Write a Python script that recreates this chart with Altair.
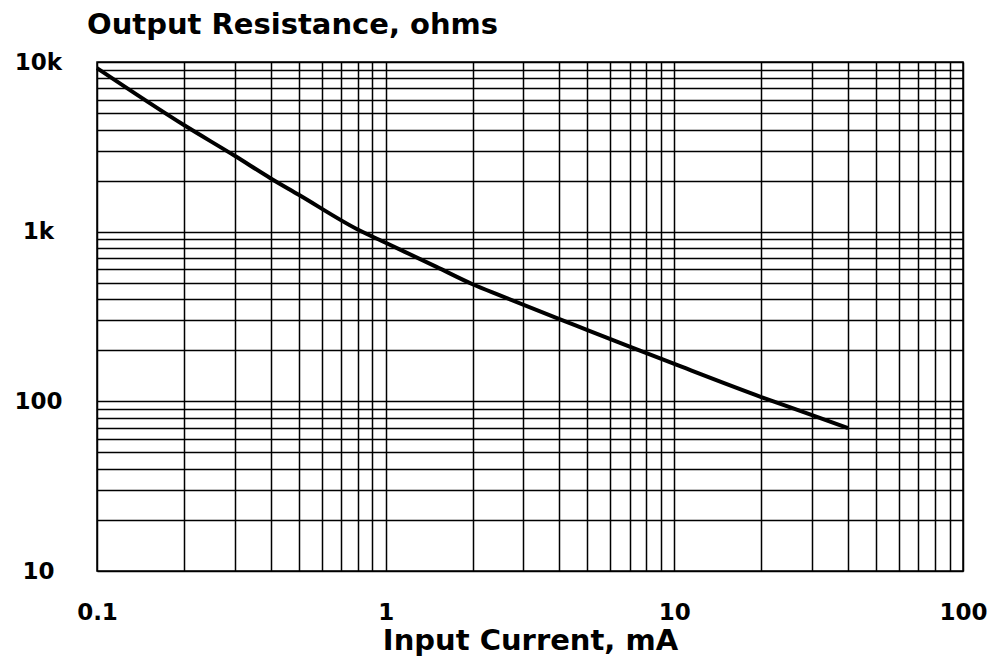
import altair as alt
import pandas as pd

# Curve (Input current in mA, output resistance in ohms)
current_ma = [0.1, 0.2, 0.3, 0.4, 0.5, 0.8, 1, 1.5, 2, 2.5, 4, 5, 7, 10, 20, 30, 40]
resistance_ohm = [9200, 4250, 2800, 2060, 1650, 1030, 860, 620, 490, 420, 305, 263, 210, 166, 106, 83, 69.4]

# Grid lines (log decades with minor divisions)
x_grid = [0.1, 0.2, 0.3, 0.4, 0.5, 0.6, 0.7, 0.8, 0.9,
          1, 2, 3, 4, 5, 6, 7, 8, 9,
          10, 20, 30, 40, 50, 60, 70, 80, 90, 100]
y_grid = [10, 20, 30, 40, 50, 60, 70, 80, 90,
          100, 200, 300, 400, 500, 600, 700, 800, 900,
          1000, 2000, 3000, 4000, 5000, 6000, 7000, 8000, 9000, 10000]

# Tick labels
x_label_values = [0.1, 1, 10, 100]
x_label_texts = ["0.1", "1", "10", "100"]
y_label_values = [10, 100, 1000, 10000]
y_label_texts = ["10", "100", "1k", "10k"]


def label_expr(values, texts):
    expr = "''"
    for v, t in zip(reversed(values), reversed(texts)):
        expr = f"datum.value == {v} ? '{t}' : ({expr})"
    return expr


df = pd.DataFrame({"current": current_ma, "resistance": resistance_ohm})

FONT = "DejaVu Sans"

chart = (
    alt.Chart(df)
    .mark_line(color="black", strokeWidth=4, interpolate="monotone")
    .encode(
        x=alt.X(
            "current:Q",
            scale=alt.Scale(type="log", domain=[0.1, 100], nice=False),
            axis=alt.Axis(
                values=x_grid,
                labelExpr=label_expr(x_label_values, x_label_texts),
                title="Input Current, mA",
                titleFont=FONT,
                titleFontSize=29,
                titleFontWeight="bold",
                titleColor="black",
                titleBaseline="alphabetic",
                titleY=78,
                labelFont=FONT,
                labelFontSize=23,
                labelFontWeight="bold",
                labelColor="black",
                labelBaseline="alphabetic",
                labelPadding=48,
                labelOverlap=False,
                labelBound=False,
                labelFlush=False,
            ),
        ),
        y=alt.Y(
            "resistance:Q",
            scale=alt.Scale(type="log", domain=[10, 10000], nice=False),
            axis=alt.Axis(
                values=y_grid,
                labelExpr=label_expr(y_label_values, y_label_texts),
                title=None,
                labelFont=FONT,
                labelFontSize=23,
                labelFontWeight="bold",
                labelColor="black",
                labelAlign="center",
                labelBaseline="middle",
                labelPadding=59,
                labelOverlap=False,
                labelBound=False,
                labelFlush=False,
            ),
        ),
    )
    .properties(
        width=866,
        height=509,
        background="white",
        title=alt.TitleParams(
            "Output Resistance, ohms",
            anchor="start",
            frame="group",
            font=FONT,
            fontSize=29,
            fontWeight="bold",
            color="black",
            baseline="alphabetic",
            offset=7,
            dx=-10,
            dy=19,
        ),
        autosize=alt.AutoSizeParams(type="none"),
        padding={"left": 89, "top": 54, "right": 36, "bottom": 91},
    )
    .configure_view(stroke="black", strokeWidth=1.5)
    .configure_axis(
        domain=False,
        ticks=False,
        tickSize=0,
        grid=True,
        gridColor="black",
        gridOpacity=1,
        gridWidth=1.5,
    )
)

chart.save("out.html", embed_options={"renderer": "svg", "actions": False})
